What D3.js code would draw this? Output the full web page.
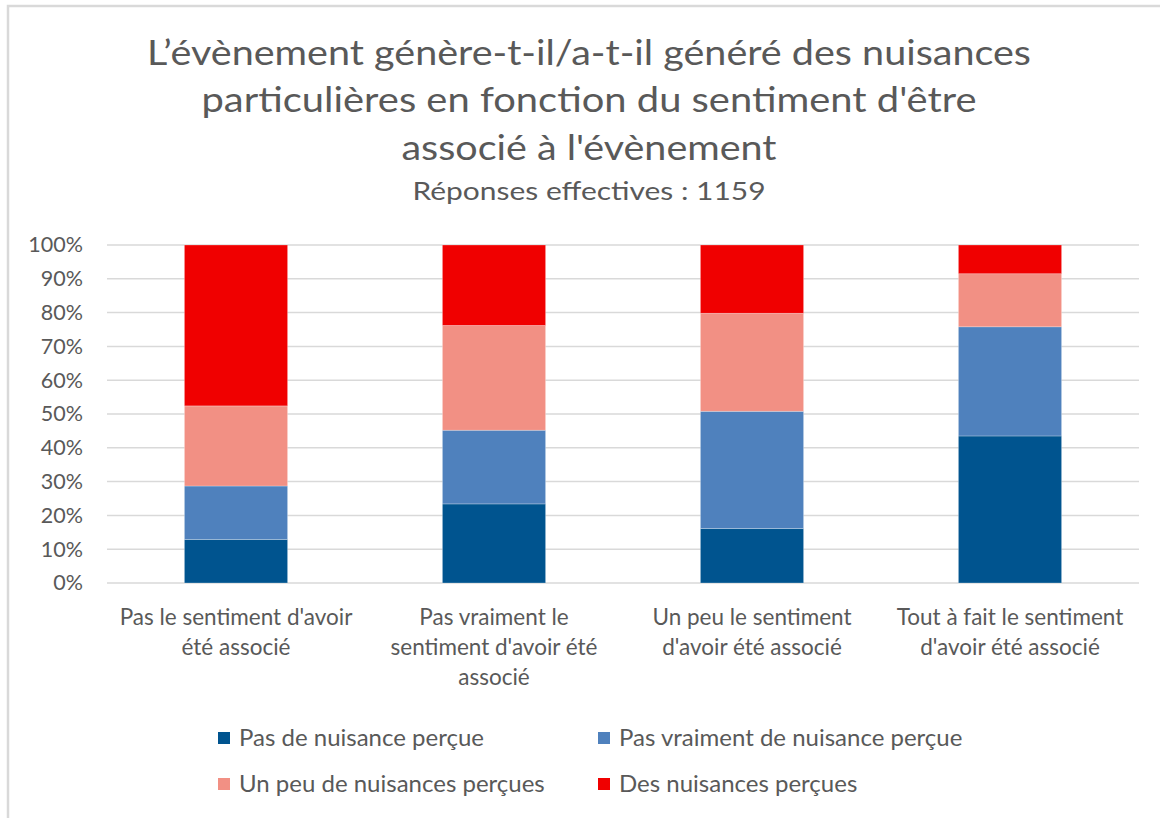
<!DOCTYPE html>
<html>
<head>
<meta charset="utf-8">
<script src="https://cdn.jsdelivr.net/npm/d3@7"></script>
<style>
  body { margin: 0; background: #fff; }
  svg { display: block; font-family: Lato, "Open Sans", sans-serif; }
</style>
</head>
<body>
<svg id="chart" width="1160" height="818"></svg>
<script>
const categories = [
  "Pas le sentiment d'avoir été associé",
  "Pas vraiment le sentiment d'avoir été associé",
  "Un peu le sentiment d'avoir été associé",
  "Tout à fait le sentiment d'avoir été associé",
];
const categoryLines = [
  ["Pas le sentiment d'avoir", "été associé"],
  ["Pas vraiment le", "sentiment d'avoir été", "associé"],
  ["Un peu le sentiment", "d'avoir été associé"],
  ["Tout à fait le sentiment", "d'avoir été associé"],
];
const seriesNames = [
  "Pas de nuisance perçue",
  "Pas vraiment de nuisance perçue",
  "Un peu de nuisances perçues",
  "Des nuisances perçues",
];
const pasDeNuisance = [12.9, 23.4, 16.1, 43.5];
const pasVraimentNuisance = [15.8, 21.8, 34.7, 32.3];
const unPeuNuisances = [23.7, 31.0, 29.0, 15.7];
const desNuisances = [47.6, 23.8, 20.2, 8.5];
const yTicks = [0, 10, 20, 30, 40, 50, 60, 70, 80, 90, 100];
const titleLines = [
  "L’évènement  génère-t-il/a-t-il généré des nuisances",
  "particulières en fonction du sentiment d'être",
  "associé à l'évènement",
];
const subtitle = "Réponses effectives : 1159";

const colors = ['#00548f', '#4f81bd', '#f29084', '#f00000'];
const textColor = '#595959';

let svg = d3.select('#chart');

/* Frame */
svg.append('rect')
    .attr('x', 8)
    .attr('y', 6)
    .attr('width', 1170)
    .attr('height', 830)
    .attr('fill', 'none')
    .attr('stroke', '#d9d9d9')
    .attr('stroke-width', 2.5);

/* Title */
let titleWidths = [884, 775, 375];
let titleBase = [65, 112, 160];
svg.append('g')
    .attr('class', 'title')
    .selectAll('text')
    .data(titleLines)
    .join('text')
    .attr('x', 589)
    .attr('y', (d, i) => titleBase[i])
    .attr('text-anchor', 'middle')
    .attr('fill', textColor)
    .attr('font-size', 34)
    .attr('textLength', (d, i) => titleWidths[i])
    .attr('lengthAdjust', 'spacingAndGlyphs')
    .text(d => d);

svg.append('text')
    .attr('x', 589)
    .attr('y', 200)
    .attr('text-anchor', 'middle')
    .attr('fill', textColor)
    .attr('font-size', 25)
    .attr('textLength', 353)
    .attr('lengthAdjust', 'spacingAndGlyphs')
    .text(subtitle);

/* Scales */
let x = d3.scaleBand()
    .domain(categories)
    .range([107, 1139])
    .paddingInner(0.6)
    .paddingOuter(0.3);
let y = d3.scaleLinear()
    .domain([0, 100])
    .range([583, 245]);

/* Grid lines */
svg.append('g')
    .attr('class', 'y-grid-lines')
    .selectAll('line')
    .data(yTicks)
    .join('line')
    .attr('x1', 107)
    .attr('x2', 1139)
    .attr('y1', d => y(d))
    .attr('y2', d => y(d))
    .attr('stroke', '#d9d9d9')
    .attr('stroke-width', 1.5);

/* Y axis */
let yAxis = svg.append('g')
    .attr('class', 'y-axis')
    .attr('transform', 'translate(107,0)')
    .call(d3.axisLeft(y).tickValues(yTicks).tickSize(0).tickPadding(24)
        .tickFormat(d => d + '%'));
yAxis.select('.domain').remove();
yAxis.selectAll('text')
    .attr('fill', textColor)
    .attr('font-size', 21.5)
    .attr('font-family', 'Lato, sans-serif');

/* Stacked bars */
let rows = categories.map((c, i) => ({
  category: c,
  s0: pasDeNuisance[i],
  s1: pasVraimentNuisance[i],
  s2: unPeuNuisances[i],
  s3: desNuisances[i],
}));
let stack = d3.stack().keys(['s0', 's1', 's2', 's3'])(rows);

svg.append('g')
    .attr('class', 'data-container-group')
    .selectAll('g')
    .data(stack)
    .join('g')
    .attr('fill', (d, i) => colors[i])
    .selectAll('rect')
    .data(d => d)
    .join('rect')
    .attr('x', d => x(d.data.category))
    .attr('width', x.bandwidth())
    .attr('y', d => y(d[1]))
    .attr('height', d => y(d[0]) - y(d[1]))
    .attr('stroke', '#ffffff')
    .attr('stroke-opacity', 0.35)
    .attr('stroke-width', 0.75);

/* X labels */
let xLabels = svg.append('g')
    .attr('class', 'x-labels')
    .selectAll('text')
    .data(categories)
    .join('text')
    .attr('x', d => x(d) + x.bandwidth() / 2)
    .attr('y', 625)
    .attr('text-anchor', 'middle')
    .attr('fill', textColor)
    .attr('font-size', 22.5);
xLabels.selectAll('tspan')
    .data((d, i) => categoryLines[i])
    .join('tspan')
    .attr('x', function() { return this.parentNode.getAttribute('x'); })
    .attr('dy', (d, i) => i === 0 ? 0 : 30)
    .text(d => d);

/* Legend */
let legendPos = [[218, 738], [598, 738], [218, 784], [598, 784]];
let legend = svg.append('g')
    .attr('class', 'legend')
    .selectAll('g')
    .data(seriesNames)
    .join('g')
    .attr('transform', (d, i) => `translate(${legendPos[i][0]},${legendPos[i][1]})`);
legend.append('rect')
    .attr('x', 0)
    .attr('y', -6)
    .attr('width', 12)
    .attr('height', 12)
    .attr('fill', (d, i) => colors[i]);
legend.append('text')
    .attr('x', 21)
    .attr('y', 8)
    .attr('fill', textColor)
    .attr('font-size', 24)
    .text(d => d);
</script>
</body>
</html>
